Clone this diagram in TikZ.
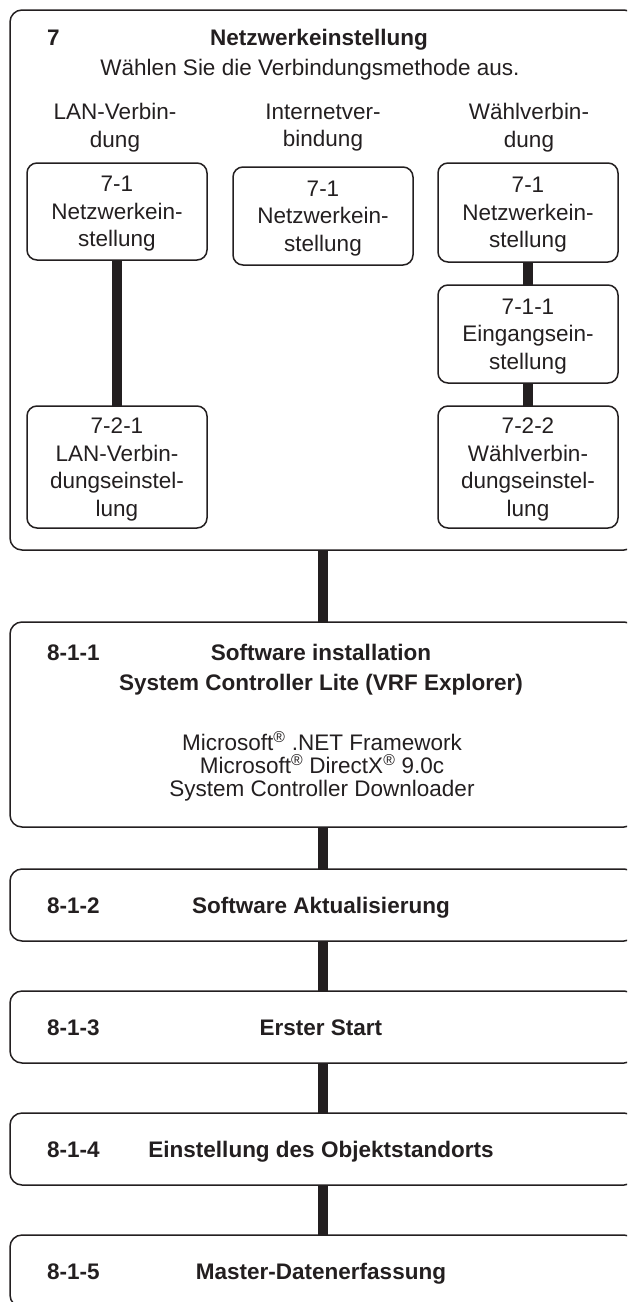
\documentclass[tikz,border=0pt]{standalone}
\usepackage{fontspec}
\setmainfont{Liberation Sans}
\definecolor{ink}{HTML}{231F20}
\newcommand\myfs{\fontsize{22.5}{27.5}\selectfont}
\newcommand\mysmallskipfs{\fontsize{22.5}{23}\selectfont}
\begin{document}
\begin{tikzpicture}[x=1pt,y=-1pt,
  every node/.style={inner sep=0pt, outer sep=0pt, text=ink},
  outerbox/.style={draw=ink, line width=1.5pt, rounded corners=12pt},
  stepbox/.style={draw=ink, line width=1.5pt, rounded corners=10pt, minimum width=180pt, align=center, text depth=0pt, font=\myfs},
  txt/.style={font=\myfs},
  mtxt/.style={font=\myfs, align=center, text depth=0pt},
  btxt/.style={font=\myfs\bfseries},
  bar/.style={draw=ink, line width=10.5pt}]
\useasboundingbox (0,0) rectangle (627,1302);
\clip (0,0) rectangle (627,1302);

% ---- section 7 ----
\node[outerbox, minimum width=626pt, minimum height=540pt, anchor=north west] (net) at (10,10) {};
\node[btxt, anchor=base west] (t7) at (47,45) {7};
\node[btxt, anchor=base] (ttl) at (319,45) {Netzwerkeinstellung};
\node[txt, anchor=base] (sub) at (310,75) {Wählen Sie die Verbindungsmethode aus.};

\node[mtxt] (hlan) at (115,125.5) {LAN-Verbin-\\dung};
\node[mtxt] (hinet) at (323,125.5) {Internetver-\\bindung};
\node[mtxt] (hwahl) at (529,125.5) {Wählverbin-\\dung};

\node[stepbox, minimum height=97pt] (lan1) at (117,211.5) {7-1\\Netzwerkein-\\stellung};
\node[stepbox, minimum height=98pt] (inet) at (323,216) {7-1\\Netzwerkein-\\stellung};
\node[stepbox, minimum height=99pt] (wahl1) at (528,212.5) {7-1\\Netzwerkein-\\stellung};
\node[stepbox, minimum height=98pt] (wahl11) at (528,334) {7-1-1\\Eingangsein-\\stellung};
\node[stepbox, minimum height=122pt] (lan2) at (117,467) {7-2-1\\LAN-Verbin-\\dungseinstel-\\lung};
\node[stepbox, minimum height=122pt] (wahl2) at (528,467) {7-2-2\\Wählverbin-\\dungseinstel-\\lung};

% ---- section 8 ----
\node[outerbox, minimum width=626pt, minimum height=205pt, anchor=north west] (s1) at (10,622) {};
\node[btxt, anchor=base west] (l1) at (47,660) {8-1-1};
\node[btxt, anchor=base] (t1a) at (321,660) {Software installation};
\node[btxt, anchor=base] (t1b) at (321,690) {System Controller Lite (VRF Explorer)};
\node[txt, anchor=base] (m1) at (322,750) {Microsoft\textsuperscript{®} .NET Framework};
\node[txt, anchor=base] (m2) at (322,773) {Microsoft\textsuperscript{®} DirectX\textsuperscript{®} 9.0c};
\node[txt, anchor=base] (m3) at (322,796) {System Controller Downloader};

\node[outerbox, minimum width=626pt, minimum height=72pt, anchor=north west] (s2) at (10,869) {};
\node[btxt, anchor=base west] (l2) at (47,913) {8-1-2};
\node[btxt, anchor=base] (t2) at (321,913) {Software Aktualisierung};

\node[outerbox, minimum width=626pt, minimum height=72pt, anchor=north west] (s3) at (10,991) {};
\node[btxt, anchor=base west] (l3) at (47,1035) {8-1-3};
\node[btxt, anchor=base] (t3) at (321,1035) {Erster Start};

\node[outerbox, minimum width=626pt, minimum height=72pt, anchor=north west] (s4) at (10,1113) {};
\node[btxt, anchor=base west] (l4) at (47,1157) {8-1-4};
\node[btxt, anchor=base] (t4) at (321,1157) {Einstellung des Objektstandorts};

\node[outerbox, minimum width=626pt, minimum height=72pt, anchor=north west] (s5) at (10,1235) {};
\node[btxt, anchor=base west] (l5) at (47,1279) {8-1-5};
\node[btxt, anchor=base] (t5) at (321,1279) {Master-Datenerfassung};

% ---- connectors ----
\draw[bar] (lan1.south) -- (lan2.north);
\draw[bar] (wahl1.south) -- (wahl11.north);
\draw[bar] (wahl11.south) -- (wahl2.north);
\draw[bar] (net.south) -- (s1.north);
\draw[bar] (s1.south) -- (s2.north);
\draw[bar] (s2.south) -- (s3.north);
\draw[bar] (s3.south) -- (s4.north);
\draw[bar] (s4.south) -- (s5.north);
\end{tikzpicture}
\end{document}
